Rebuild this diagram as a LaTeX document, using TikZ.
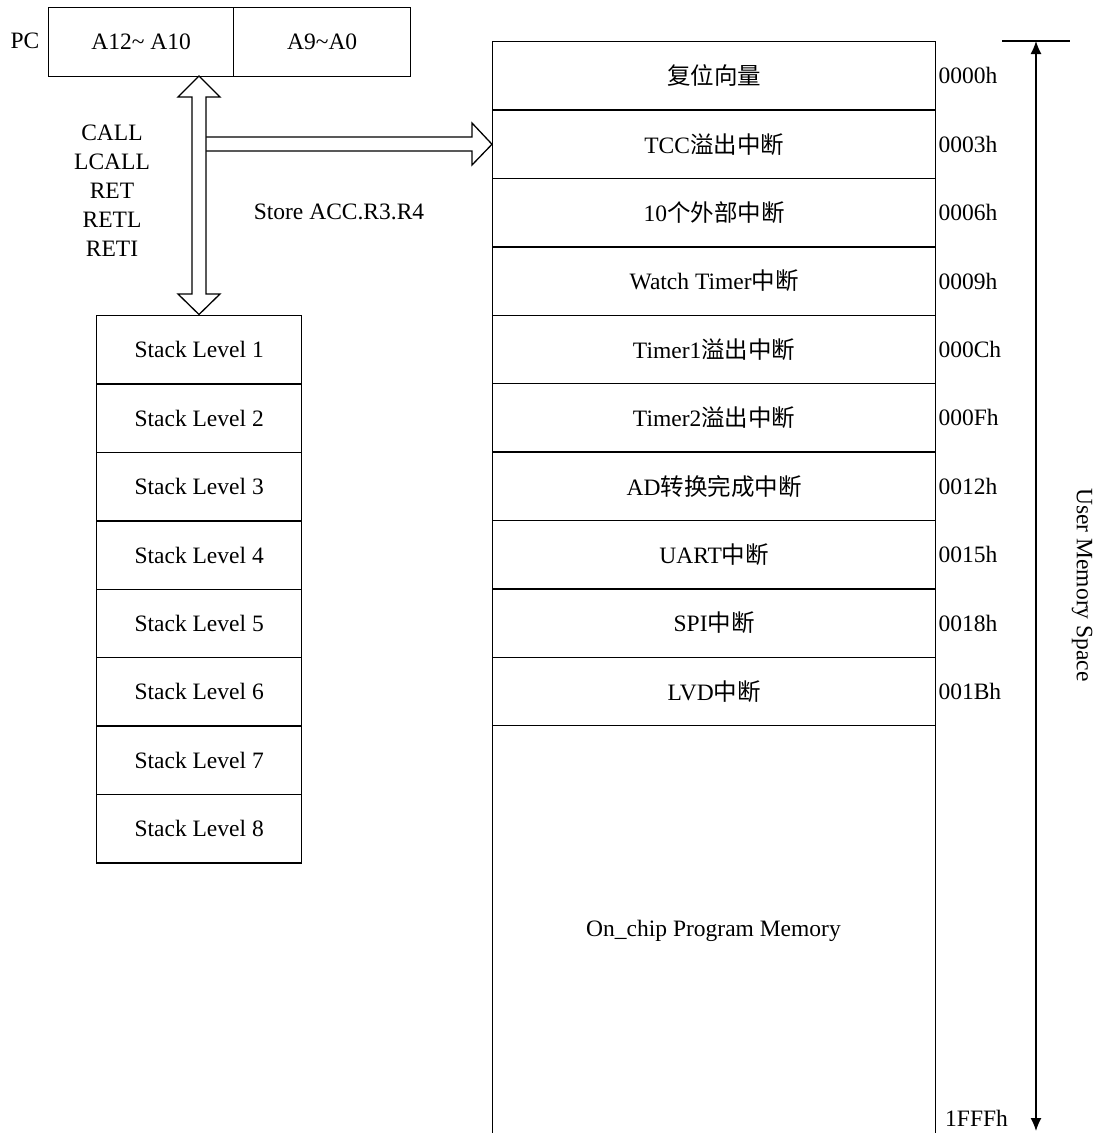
\documentclass[tikz,border=0pt]{standalone}
\usepackage{fontspec}
\setmainfont{Liberation Serif}
\newfontfamily\cjk{Noto Sans CJK SC}
\usetikzlibrary{arrows.meta}
\begin{document}
\begin{tikzpicture}[x=1pt,y=-1pt,
  every node/.style={font=\fontsize{23.5}{29}\selectfont, inner sep=0pt},
  cell/.style={draw, line width=1.3pt, anchor=north west, minimum height=68.4pt},
  stackcell/.style={cell, minimum width=205pt},
  memcell/.style={cell, minimum width=443pt},
  addr/.style={anchor=west},
  bigarrow/.style={draw, line width=1.3pt, fill=white, line join=miter}]
\useasboundingbox (0,0) rectangle (1097,1133);
\clip (0,0) rectangle (1097,1133);
% PC register
\node (pc) at (25,41) {PC};
\node[cell, minimum width=185pt, minimum height=69pt] (pchi) at (48,7) {A12\textasciitilde\ A10};
\node[cell, minimum width=177pt, minimum height=69pt] (pclo) at (233,7) {A9\textasciitilde A0};
% stack
\foreach \i in {1,...,8}{
  \node[stackcell] (s\i) at (96,{315+68.4*(\i-1)}) {Stack Level \i};
}
% memory
\foreach \i/\t in {0/{\cjk 复位向量},1/TCC{\cjk 溢出中断},2/10{\cjk 个外部中断},3/Watch Timer{\cjk 中断},4/Timer1{\cjk 溢出中断},5/Timer2{\cjk 溢出中断},6/AD{\cjk 转换完成中断},7/UART{\cjk 中断},8/SPI{\cjk 中断},9/LVD{\cjk 中断}}{
  \node[memcell] (m\i) at (492,{41+68.4*\i}) {\t};
}
\node[memcell, minimum height=420pt] (mem) at (492,725) {};
\node (onchip) at (713.5,931) {On\_chip Program Memory};
% addresses
\foreach \i/\a in {0/0000h,1/0003h,2/0006h,3/0009h,4/000Ch,5/000Fh,6/0012h,7/0015h,8/0018h,9/001Bh}{
  \node[addr] (a\i) at ([xshift=2pt]m\i.east) {\a};
}
\node[addr] (aend) at (945,1118) {1FFFh};
% instruction labels
\node[align=center] (instr) at (112,191) {CALL\\LCALL\\RET\\RETL\\RETI};
\node (store) at (339,212) {Store ACC.R3.R4};
% horizontal wide arrow
\coordinate (hstart) at (206,144);
\draw[line width=1.3pt, line join=miter] (206,137) -- (472,137) -- (472,123) -- (m1.west) -- (472,165) -- (472,151) -- (206,151);
% vertical double arrow
\draw[bigarrow] (199,76) -- (220,97) -- (206,97) -- (206,294) -- (220,294) -- (199,314.5)
  -- (178,294) -- (192,294) -- (192,97) -- (178,97) -- cycle;
% user memory space
\coordinate (ustop) at (1036,41);
\coordinate (usbot) at (1036,1131);
\draw[line width=1.3pt] (1002,41) -- (1070,41);
\draw[line width=1.3pt, {Latex[length=13pt,width=11pt]}-{Latex[length=13pt,width=11pt]}] (ustop) -- (usbot);
\node[rotate=-90] (ums) at (1082,585) {User Memory Space};
\end{tikzpicture}
\end{document}
